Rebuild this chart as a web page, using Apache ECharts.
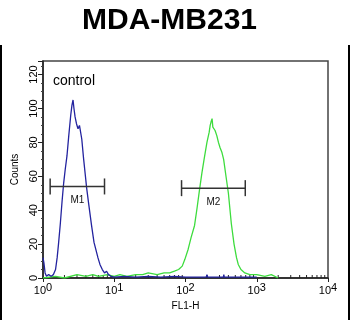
<!DOCTYPE html>
<html><head><meta charset="utf-8">
<script src="https://cdn.jsdelivr.net/npm/echarts@6/dist/echarts.min.js"></script>
<style>html,body{margin:0;padding:0;background:#fff}#c{width:350px;height:320px}</style>
</head><body><div id="c"></div>
<script>
const titleText = 'MDA-MB231';
const xTickLabels = ['0','1','2','3','4'];
const yTicks = [0,20,40,60,80,100,120];
// control histogram (blue)
const blueX = [1.0,1.03,1.07,1.12,1.2,1.3,1.4,1.5,1.58,1.65,1.75,1.85,1.95,2.05,2.17,2.3,2.45,2.55,2.64,2.72,2.82,2.95,3.1,3.25,3.35,3.5,3.7,3.94,4.1,4.4,4.8,5.2,5.5,5.9,6.3,6.8,7.3,7.8,8.3,9,10,14,20,30,45,70,100,150,195,200,205,300,340,345,350,500,700,1000];
const blueY = [12,9,3,1,2,1,2,5,12,20,32,45,56,64,72,84,96,102,105,100,95,91,88,90,90,82,71,60,53,43,31,21,17,12,8,5,3,4,2,1,0.5,1,0.5,1,0.5,1,0.5,0.5,0.5,2,0.5,0.5,0.5,2,0.5,0.5,0.5,0.5];
// sample histogram (green)
const greenX = [1,1.5,2,3,4,5,6,8,10,12,15,20,25,30,40,50,60,70,80,90,98,109,120,134,145,156,170,184,200,215,222,228,236,242,250,260,275,290,305,325,343,370,400,440,480,520,550,600,680,800,1000,1300,1600,2000];
const greenY = [0,1,0,2,1,2,1,2,1,2,1,2,2,3,2,3,3,4,5,7,11,17,24,31,41,51,62,71,80,86,90,92,94,89,90,87,84,80,77,74,70,60,50,32,20,12,8,5,3,2,2,1,2,0];
// gate markers: [from, to, count level, name]
const markerM1 = [1.26, 7.3, 54, 'M1'];
const markerM2 = [88, 690, 53, 'M2'];
const minorTickVals = [2,3,4,5,6,7,8,9,20,30,40,50,60,70,80,90,200,300,400,500,600,700,800,900,2000,3000,4000,5000,6000,7000,8000,9000];

const FONT = '"Liberation Sans", Arial, sans-serif';
const zip = (xs, ys) => xs.map((x, i) => [x, ys[i]]);

const chart = echarts.init(document.getElementById('c'), null, {renderer: 'canvas'});
chart.setOption({
  animation: false,
  title: {text: titleText, left: 77, top: 1,
    textStyle: {fontFamily: FONT, fontSize: 30, fontWeight: 'bold', color: '#000'}},
  grid: {left: 43, right: 22, top: 61, bottom: 42, show: true, borderColor: '#444', borderWidth: 1.5},
  xAxis: {
    type: 'log', logBase: 10, min: 1, max: 10000,
    name: 'FL1-H', nameLocation: 'middle', nameGap: 21,
    nameTextStyle: {fontFamily: FONT, fontSize: 10, color: '#000'},
    axisLine: {lineStyle: {color: '#222', width: 1.5}},
    axisTick: {show: true, length: 4, lineStyle: {color: '#222'}},
    splitLine: {show: false},
    axisLabel: {
      margin: 4,
      formatter: function (v) { return '{b|10}{s|' + xTickLabels[Math.round(Math.log10(v))] + '}'; },
      rich: {
        b: {fontFamily: FONT, fontSize: 11, color: '#000'},
        s: {fontFamily: FONT, fontSize: 11, color: '#000', verticalAlign: 'bottom', padding: [0,0,6,0]}
      }
    }
  },
  yAxis: {
    type: 'value', min: 0, max: 128, interval: 20,
    name: 'Counts', nameLocation: 'middle', nameGap: 22, nameRotate: 90,
    nameTextStyle: {fontFamily: FONT, fontSize: 10, color: '#000'},
    axisLine: {show: true, lineStyle: {color: '#222', width: 1.5}},
    axisTick: {show: true, length: 5, lineStyle: {color: '#222'}},
    minorTick: {show: true, splitNumber: 4, length: 2, lineStyle: {color: '#444'}},
    splitLine: {show: false},
    axisLabel: {rotate: 90, margin: 4, showMaxLabel: false, fontFamily: FONT, fontSize: 11, color: '#000',
      formatter: function (v) { return yTicks.indexOf(v) >= 0 ? String(v) : ''; }}
  },
  graphic: [
    {type: 'text', left: 53, top: 74, style: {text: 'control', font: '14px ' + FONT, fill: '#000'}},
    {type: 'line', shape: {x1: 1, y1: 45, x2: 1, y2: 320}, style: {stroke: '#000', lineWidth: 2}},
    {type: 'line', shape: {x1: 349, y1: 45, x2: 349, y2: 320}, style: {stroke: '#000', lineWidth: 2}}
  ],
  series: [
    {type: 'custom', silent: true, data: minorTickVals.map(v => [v, 0]), z: 1,
      renderItem: function (params, api) {
        const p = api.coord([api.value(0), 0]);
        return {type: 'line', shape: {x1: p[0], y1: p[1], x2: p[0], y2: p[1] - 3}, style: {stroke: '#222', lineWidth: 1}};
      }},
    {type: 'line', data: zip(greenX, greenY), showSymbol: false, z: 3,
      lineStyle: {color: '#3ddc3d', width: 1.3}},
    {type: 'line', data: zip(blueX, blueY), showSymbol: false, z: 4,
      lineStyle: {color: '#23239f', width: 1.3}},
    {type: 'custom', silent: true, data: [markerM1, markerM2], z: 5,
      renderItem: function (params, api) {
        const p1 = api.coord([api.value(0), api.value(2)]);
        const p2 = api.coord([api.value(1), api.value(2)]);
        const name = params.dataIndex === 0 ? markerM1[3] : markerM2[3];
        const st = {stroke: '#333', lineWidth: 1.5};
        return {type: 'group', children: [
          {type: 'line', shape: {x1: p1[0], y1: p1[1], x2: p2[0], y2: p2[1]}, style: st},
          {type: 'line', shape: {x1: p1[0], y1: p1[1] - 8, x2: p1[0], y2: p1[1] + 8}, style: st},
          {type: 'line', shape: {x1: p2[0], y1: p2[1] - 8, x2: p2[0], y2: p2[1] + 8}, style: st},
          {type: 'text', style: {text: name, x: (p1[0] + p2[0]) / 2, y: p1[1] + 14,
            align: 'center', verticalAlign: 'middle', font: '10px ' + FONT, fill: '#111'}}
        ]};
      }}
  ]
});
</script></body></html>
